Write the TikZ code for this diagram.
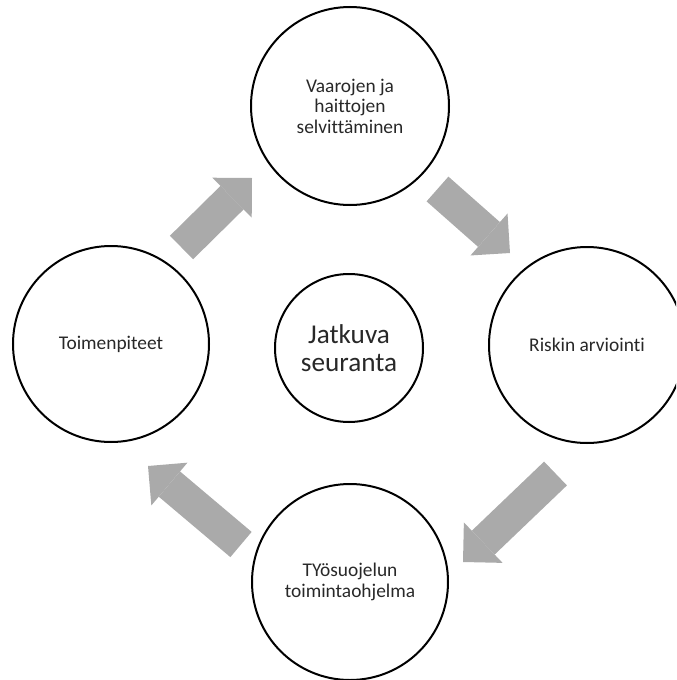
\documentclass[tikz,border=0pt]{standalone}
\usepackage{fontspec}
\setmainfont{Carlito}[Ligatures=NoCommon]
\usepackage{xcolor}
\usepackage{tikz}
\usetikzlibrary{positioning,arrows.meta}
\definecolor{arrowgray}{RGB}{170,170,170}
\definecolor{textgray}{RGB}{40,40,40}

\begin{document}
\begin{tikzpicture}[x=0.5pt,y=-0.5pt,
  phase/.style={circle,draw,line width=1pt,minimum size=98pt,inner sep=0pt,
    align=center,text=textgray,font=\fontsize{9.7}{10.3}\selectfont},
  hub/.style={phase,minimum size=74pt,font=\fontsize{13.6}{14}\selectfont},
  blockarrow/.style={draw=arrowgray,line width=16.5pt,
    -{Triangle[length=14pt,width=28pt,line width=0pt]}}]
  \useasboundingbox (0,0) rectangle (676,680);
  \clip (0,0) rectangle (676,680);
  % the four steps of the cycle
  \node[phase,minimum size=99pt] (survey) at (350,106) {Vaarojen ja\\haittojen\\selvittäminen};
  \node[phase] (risk) at (587,345) {Riskin arviointi};
  \node[phase] (plan) at (350,582) {TYösuojelun\\toimintaohjelma};
  \node[phase] (action) at (111,344) {Toimenpiteet};
  \node[hub] (follow) at (349,348) {Jatkuva\\seuranta};
  % block arrows between the steps
  \coordinate (a1s) at (181.5,247.5);
  \coordinate (a1e) at (252,178);
  \coordinate (a2s) at (437.5,189);
  \coordinate (a2e) at (510,253);
  \coordinate (a3s) at (555.5,473.5);
  \coordinate (a3e) at (463,562);
  \coordinate (a4s) at (241,544.5);
  \coordinate (a4e) at (148,466);
  \foreach \i in {1,...,4}{
    \draw[blockarrow] (a\i s) -- (a\i e);
  }
\end{tikzpicture}
\end{document}
